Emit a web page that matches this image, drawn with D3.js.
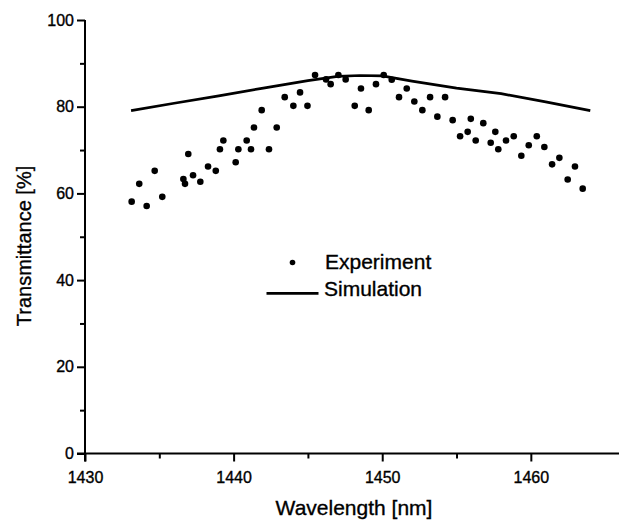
<!DOCTYPE html>
<html>
<head>
<meta charset="utf-8">
<script src="https://cdn.jsdelivr.net/npm/d3@7"></script>
<style>
  html, body { margin: 0; padding: 0; background: #fff; }
  svg { display: block; font-family: "Liberation Sans", Arial, Helvetica, sans-serif; }
  text { stroke: #000; stroke-width: 0.35px; fill: #000; }
</style>
</head>
<body>
<svg id="chart" width="619" height="521"></svg>
<script>
// ---- Data ----
const expWavelength = [1433.14, 1433.65, 1434.15, 1434.69, 1435.20, 1436.62, 1436.73, 1436.95, 1437.27, 1437.76,
  1438.28, 1438.80, 1439.08, 1439.31, 1440.14, 1440.32, 1440.88, 1441.17, 1441.37, 1441.89,
  1442.38, 1442.90, 1443.44, 1444.02, 1444.47, 1444.97, 1445.48, 1446.22, 1446.53, 1447.05,
  1447.54, 1448.15, 1448.57, 1449.09, 1449.58, 1450.10, 1450.64, 1451.13, 1451.65, 1452.16,
  1452.70, 1453.22, 1453.71, 1454.23, 1454.74, 1455.24, 1455.75, 1455.96, 1456.29, 1456.80,
  1457.30, 1457.61, 1457.81, 1458.33, 1458.85, 1459.36, 1459.86, 1460.40, 1460.91, 1461.43,
  1461.92, 1462.48, 1462.97, 1463.49];
const expTransmittance = [58.1, 62.2, 57.1, 65.2, 59.2, 63.3, 62.2, 69.1, 64.2, 62.7,
  66.2, 65.2, 70.2, 72.2, 67.2, 70.2, 72.2, 70.2, 75.2, 79.2,
  70.2, 75.2, 82.2, 80.2, 83.3, 80.2, 87.3, 86.3, 85.2, 87.3,
  86.3, 80.2, 84.2, 79.2, 85.2, 87.3, 86.2, 82.2, 84.2, 81.2,
  79.2, 82.2, 77.7, 82.2, 76.9, 73.2, 74.2, 77.2, 72.2, 76.2,
  71.7, 74.2, 70.2, 72.2, 73.2, 68.7, 71.1, 73.2, 70.7, 66.7,
  68.2, 63.2, 66.2, 61.1];

const simWavelength = [1433.1, 1436, 1439, 1442, 1445, 1447, 1448.5, 1450, 1452, 1455, 1458, 1461, 1464];
const simTransmittance = [79.1, 80.8, 82.5, 84.3, 86.0, 87.0, 87.2, 87.1, 85.9, 84.3, 83.0, 81.1, 79.1];

const xMajorTicks = [1430, 1440, 1450, 1460];
const xMinorTicks = [1435, 1445, 1455];
const yMajorTicks = [0, 20, 40, 60, 80, 100];
const yMinorTicks = [10, 30, 50, 70, 90];

const legendLabels = ["Experiment", "Simulation"];
const xTitle = "Wavelength [nm]";
const yTitle = "Transmittance [%]";

// ---- Layout ----
const svg = d3.select("#chart");
const x = d3.scaleLinear().domain([1430, 1466]).range([85, 620]);
const y = d3.scaleLinear().domain([0, 100]).range([453.5, 20]);

// Axes
const xAxis = d3.axisBottom(x).tickValues(xMajorTicks).tickSize(8).tickPadding(10).tickFormat(d3.format("d"));
const xMinor = d3.axisBottom(x).tickValues(xMinorTicks).tickSize(5).tickFormat("");
const yAxis = d3.axisLeft(y).tickValues(yMajorTicks).tickSize(8).tickPadding(3).tickFormat(d3.format("d"));
const yMinor = d3.axisLeft(y).tickValues(yMinorTicks).tickSize(5).tickFormat("");

function styleAxis(g) {
  g.select(".domain").attr("stroke", "#000").attr("stroke-width", 2);
  g.selectAll(".tick line").attr("stroke", "#000").attr("stroke-width", 2);
  g.selectAll(".tick text").attr("fill", "#000").style("font-size", "16px")
    .style("font-family", "'Liberation Sans', Arial, sans-serif");
}

const gx = svg.append("g").attr("transform", `translate(0,${y(0)})`).call(xAxis);
styleAxis(gx);
gx.select(".domain").attr("d", `M${x.range()[0] - 8},0H${x.range()[1]}`);
const gxm = svg.append("g").attr("transform", `translate(0,${y(0)})`).call(xMinor);
styleAxis(gxm);
gxm.select(".domain").remove();

const gy = svg.append("g").attr("transform", `translate(${x(1430)},0)`).call(yAxis);
styleAxis(gy);
gy.select(".domain").attr("d", `M0,${y.range()[0] + 8}V${y.range()[1]}`);
const gym = svg.append("g").attr("transform", `translate(${x(1430)},0)`).call(yMinor);
styleAxis(gym);
gym.select(".domain").remove();

// Simulation line
const line = d3.line().x((d, i) => x(simWavelength[i])).y((d, i) => y(simTransmittance[i]));
svg.append("path")
  .datum(simWavelength)
  .attr("d", line)
  .attr("fill", "none")
  .attr("stroke", "#000")
  .attr("stroke-width", 2.7)
  .attr("stroke-linejoin", "round");

// Experiment dots
svg.append("g").selectAll("circle")
  .data(expWavelength)
  .join("circle")
  .attr("cx", (d) => x(d))
  .attr("cy", (d, i) => y(expTransmittance[i]))
  .attr("r", 3.3)
  .attr("fill", "#000");

// Legend
const leg = svg.append("g").style("font-size", "21px");
leg.append("circle").attr("cx", 292.5).attr("cy", 262.5).attr("r", 2.8).attr("fill", "#000");
leg.append("text").attr("x", 325).attr("y", 268.5).text(legendLabels[0]);
leg.append("line").attr("x1", 266.5).attr("x2", 318.5).attr("y1", 293.3).attr("y2", 293.3)
  .attr("stroke", "#000").attr("stroke-width", 2.7);
leg.append("text").attr("x", 324).attr("y", 295.5).text(legendLabels[1]);

// Axis titles
svg.append("text").attr("x", 354).attr("y", 515).attr("text-anchor", "middle")
  .style("font-size", "21px").text(xTitle);
svg.append("text").attr("transform", "translate(31,246) rotate(-90)").attr("text-anchor", "middle")
  .style("font-size", "20px").text(yTitle);
</script>
</body>
</html>
